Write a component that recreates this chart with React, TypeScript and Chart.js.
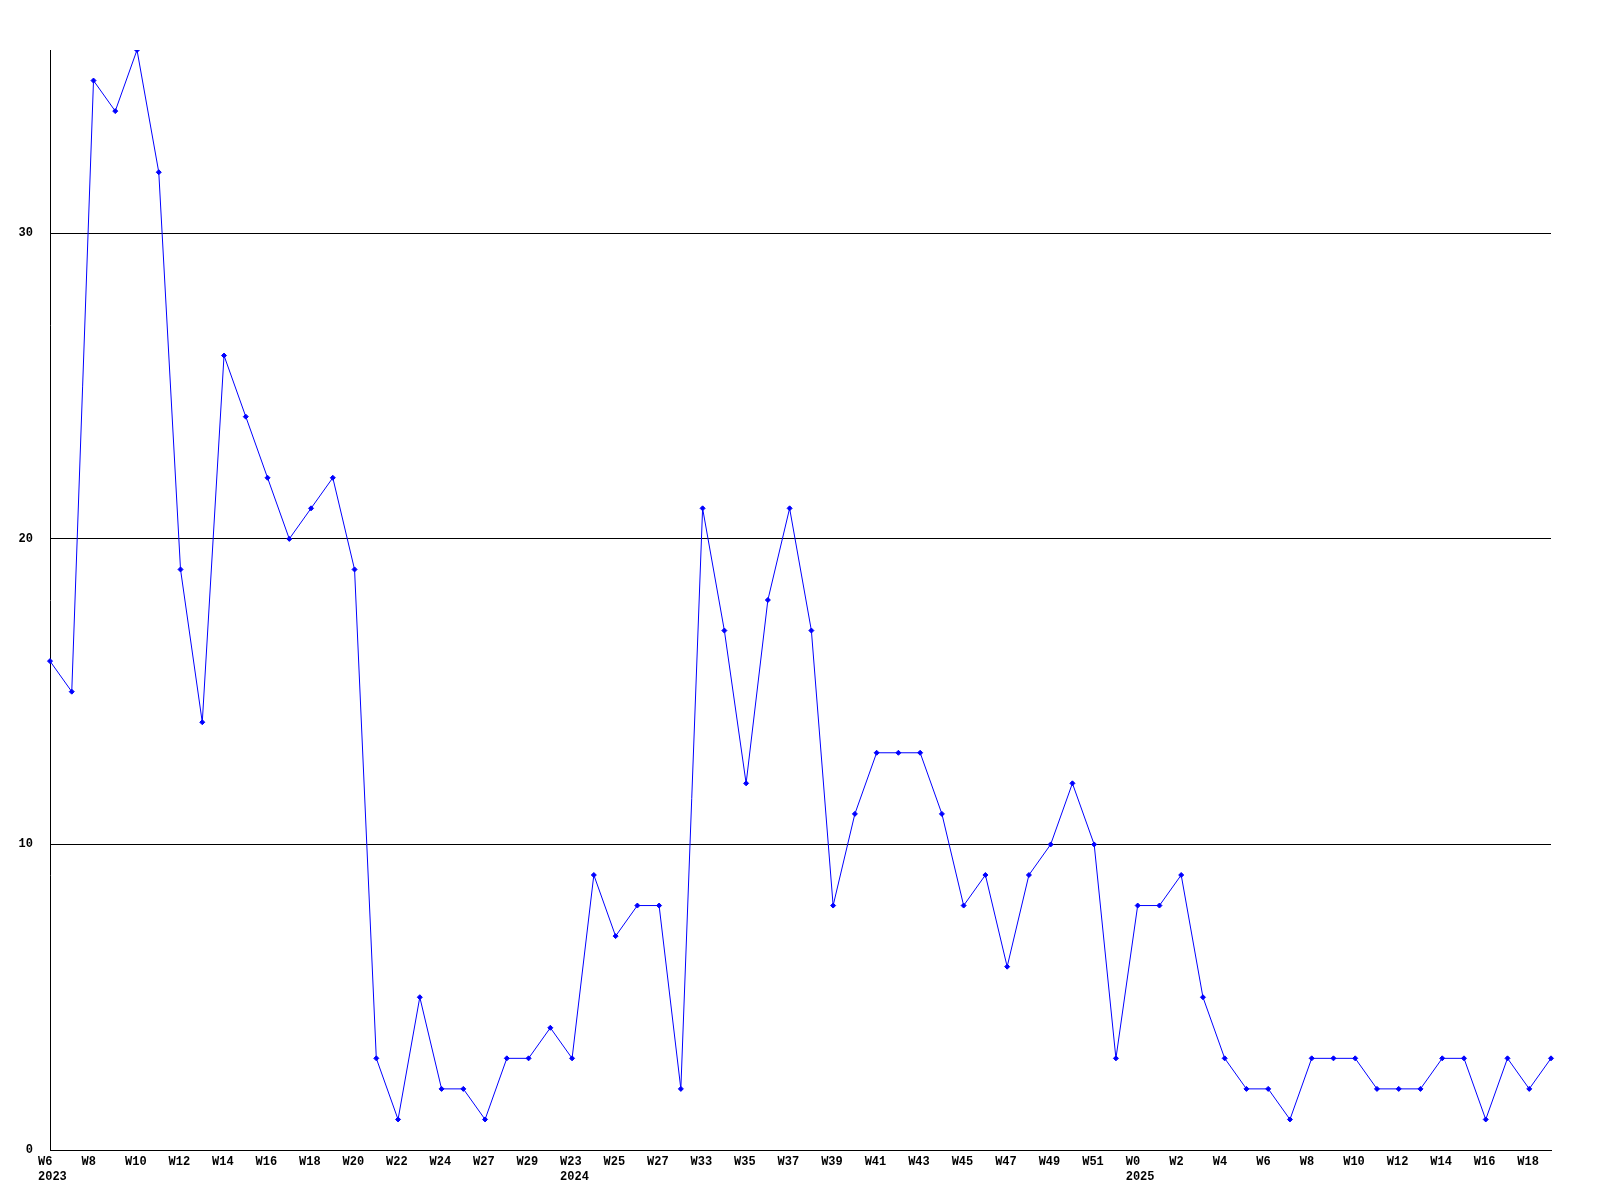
import React, { useEffect, useRef } from 'react';
import { Chart, registerables } from 'chart.js';

Chart.register(...registerables);

const weekLabels: (string | string[])[] = [
  ['W6', '2023'], 'W7', 'W8', 'W9', 'W10', 'W11', 'W12', 'W13', 'W14', 'W15',
  'W16', 'W17', 'W18', 'W19', 'W20', 'W21', 'W22', 'W23', 'W24', 'W26',
  'W27', 'W28', 'W29', 'W30', ['W23', '2024'], 'W24', 'W25', 'W26', 'W27', 'W28',
  'W33', 'W34', 'W35', 'W36', 'W37', 'W38', 'W39', 'W40', 'W41', 'W42',
  'W43', 'W44', 'W45', 'W46', 'W47', 'W48', 'W49', 'W50', 'W51', 'W52',
  ['W0', '2025'], 'W1', 'W2', 'W3', 'W4', 'W5', 'W6', 'W7', 'W8', 'W9',
  'W10', 'W11', 'W12', 'W13', 'W14', 'W15', 'W16', 'W17', 'W18', 'W19',
];

const counts = [
  16, 15, 35, 34, 36, 32, 19, 14, 26, 24,
  22, 20, 21, 22, 19, 3, 1, 5, 2, 2,
  1, 3, 3, 4, 3, 9, 7, 8, 8, 2,
  21, 17, 12, 18, 21, 17, 8, 11, 13, 13,
  13, 11, 8, 9, 6, 9, 10, 12, 10, 3,
  8, 8, 9, 5, 3, 2, 2, 1, 3, 3,
  3, 2, 2, 2, 3, 3, 1, 3, 2, 3,
];

const yTickValues = [0, 10, 20, 30];
const yMax = 36;

export default function App() {
  const ref = useRef<HTMLCanvasElement | null>(null);

  useEffect(() => {
    document.body.style.margin = '0';
    const canvas = ref.current;
    if (!canvas) return;
    const font = { family: '"Liberation Mono", "DejaVu Sans Mono", monospace', size: 12, weight: 'bold' as const, lineHeight: 1.3 };
    const chart = new Chart(canvas, {
      type: 'line',
      data: {
        labels: weekLabels,
        datasets: [
          {
            data: counts,
            borderColor: '#0000ff',
            backgroundColor: '#0000ff',
            borderWidth: 1,
            pointStyle: 'rectRot',
            pointRadius: 2.5,
            pointBorderWidth: 1,
            pointBackgroundColor: '#0000ff',
            pointBorderColor: '#0000ff',
            tension: 0,
            fill: false,
          },
        ],
      },
      options: {
        responsive: false,
        animation: false,
        devicePixelRatio: 1,
        layout: { padding: { top: 50, right: 49, left: 0, bottom: 0 } },
        plugins: { legend: { display: false }, tooltip: { enabled: false } },
        scales: {
          x: {
            type: 'category',
            offset: false,
            grid: { display: false, drawTicks: false },
            border: { display: true, color: '#000000', width: 1 },
            ticks: {
              autoSkip: false,
              maxRotation: 0,
              minRotation: 0,
              align: 'start',
              labelOffset: -12,
              padding: 4,
              color: '#000000',
              font,
              callback: (_v: any, i: number) => (i % 2 === 0 ? weekLabels[i] : ''),
            },
            afterFit: (scale: any) => {
              scale.height = 50;
            },
          },
          y: {
            min: 0,
            max: yMax,
            grid: { display: true, color: '#000000', lineWidth: 1, drawTicks: false },
            border: { display: true, color: '#000000', width: 1 },
            ticks: { padding: 17, color: '#000000', font },
            afterBuildTicks: (scale: any) => {
              scale.ticks = yTickValues.map((v) => ({ value: v }));
            },
            afterFit: (scale: any) => {
              scale.width = 50;
            },
          },
        },
      },
    });
    return () => chart.destroy();
  }, []);

  return <canvas ref={ref} width={1600} height={1200} style={{ display: 'block' }} />;
}
